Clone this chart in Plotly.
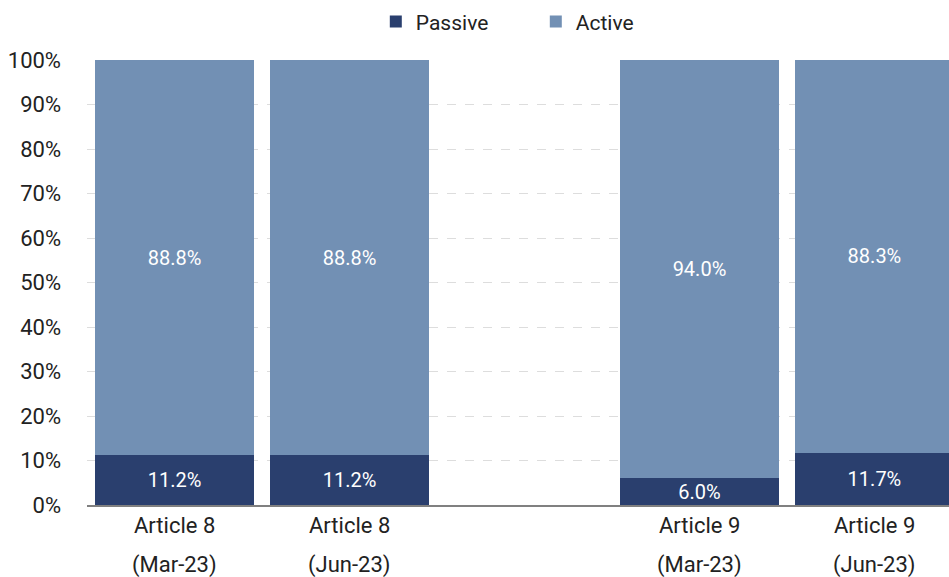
import plotly.graph_objects as go

categories = ["Article 8<br>(Mar-23)", "Article 8<br>(Jun-23)", " ",
              "Article 9<br>(Mar-23)", "Article 9<br>(Jun-23)"]
passive = [11.2, 11.2, None, 6.0, 11.7]
active = [88.8, 88.8, None, 94.0, 88.3]
y_ticks = [0, 10, 20, 30, 40, 50, 60, 70, 80, 90, 100]

FONT = "Roboto, sans-serif"
C_PASSIVE = "#2A3F6E"
C_ACTIVE = "#7290B4"
TXT = "#222222"

fig = go.Figure()
for name, vals, col in [("Passive", passive, C_PASSIVE), ("Active", active, C_ACTIVE)]:
    fig.add_trace(go.Bar(
        x=categories, y=vals, name=name, marker_color=col,
        marker_line_width=0,
        texttemplate="%{y:.1f}%", textposition="inside", insidetextanchor="middle",
        textfont=dict(color="white", size=20, family=FONT),
        hoverinfo="skip",
    ))

# two-line category labels drawn under the axis
for cat in categories:
    if not cat.strip():
        continue
    l1, l2 = cat.split("<br>")
    for txt, shift in [(l1, -20), (l2, -60)]:
        fig.add_annotation(x=cat, xref="x", y=0, yref="paper", yshift=shift,
                           text=txt, showarrow=False, yanchor="middle",
                           font=dict(size=22, family=FONT, color=TXT))

fig.update_layout(
    barmode="stack",
    bargap=0.09,
    width=949, height=577,
    margin=dict(l=87, r=0, t=60, b=72, autoexpand=False),
    plot_bgcolor="white", paper_bgcolor="white",
    font=dict(family=FONT, size=21, color=TXT),
    uniformtext=dict(minsize=20, mode="show"),
    legend=dict(orientation="h", xref="container", x=0.396, xanchor="left",
                yref="container", y=0.962, yanchor="middle",
                font=dict(size=21, family=FONT, color=TXT),
                traceorder="normal",
                entrywidth=115, entrywidthmode="pixels"),
    xaxis=dict(
        type="category", categoryorder="array", categoryarray=categories,
        range=[-0.5, 4.426], showgrid=False, automargin=False,
        showline=True, linecolor="#808080", linewidth=2,
        ticks="", showticklabels=False,
    ),
    yaxis=dict(
        range=[0, 100], tickvals=y_ticks, ticktext=[f"{v}%" for v in y_ticks],
        showgrid=True, gridcolor="#DDDDDD", griddash="dash", gridwidth=1,
        zeroline=False, showline=False, ticks="", automargin=False,
        ticklabelstandoff=25,
        tickfont=dict(size=22, family=FONT, color=TXT),
    ),
)

fig.write_html("out.html", config={"displayModeBar": False},
               post_script="document.body.style.margin='0';document.body.style.overflow='hidden';")
